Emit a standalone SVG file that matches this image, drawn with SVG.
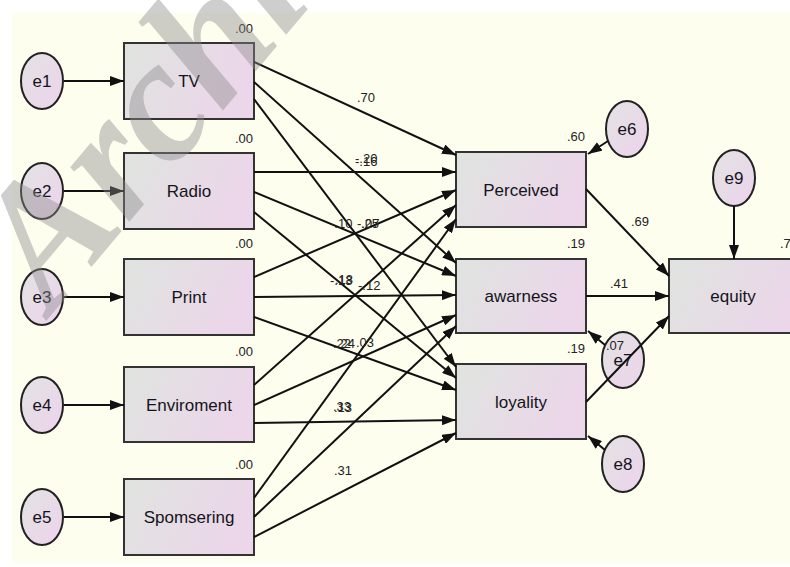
<svg xmlns="http://www.w3.org/2000/svg" width="790" height="567" viewBox="0 0 790 567">
  <defs>
    <linearGradient id="boxFill" x1="0" y1="0" x2="1" y2="0.3">
      <stop offset="0" stop-color="#dfe4df"/>
      <stop offset="1" stop-color="#ecd6ea"/>
    </linearGradient>
    <linearGradient id="ovalFill" x1="0" y1="0" x2="1" y2="1">
      <stop offset="0" stop-color="#e3e3e3"/>
      <stop offset="1" stop-color="#edd3ec"/>
    </linearGradient>
    <marker id="head" viewBox="0 0 14 10" refX="14" refY="5" markerWidth="14" markerHeight="10" orient="auto" markerUnits="userSpaceOnUse">
      <path d="M0,0 L14,5 L0,10 z" fill="#111"/>
    </marker>
    <style>
      .box { fill: url(#boxFill); stroke: #333; stroke-width: 2; }
      .oval { fill: url(#ovalFill); stroke: #222; stroke-width: 2; }
      .name { font-family: "Liberation Sans", Arial, sans-serif; font-size: 17px; fill: #141420; text-anchor: middle; }
      .val { font-family: "Liberation Sans", Arial, sans-serif; font-size: 13px; fill: #222; }
      .end { text-anchor: end; }
      .wire { stroke: #111; stroke-width: 2; fill: none; marker-end: url(#head); }
      .mark { font-family: "Liberation Serif", "Times New Roman", serif; font-weight: bold; font-style: italic; font-size: 175px; fill: #8a8a8a; fill-opacity: 0.42; }
    </style>
  </defs>

  <rect x="0" y="0" width="790" height="567" fill="#ffffff"/>
  <rect x="12" y="13" width="778" height="550" fill="#fefeef"/>

  <!-- error terms -->
  <g id="e1"><ellipse class="oval" cx="42" cy="81" rx="21" ry="28"/><text class="name" x="42" y="87">e1</text></g>
  <g id="e2"><ellipse class="oval" cx="42" cy="191" rx="21" ry="28"/><text class="name" x="42" y="197">e2</text></g>
  <g id="e3"><ellipse class="oval" cx="42" cy="297" rx="21" ry="28"/><text class="name" x="42" y="303">e3</text></g>
  <g id="e4"><ellipse class="oval" cx="42" cy="405" rx="21" ry="28"/><text class="name" x="42" y="411">e4</text></g>
  <g id="e5"><ellipse class="oval" cx="42" cy="517" rx="21" ry="28"/><text class="name" x="42" y="523">e5</text></g>
  <g id="e6"><ellipse class="oval" cx="627" cy="129" rx="21" ry="28"/><text class="name" x="627" y="135">e6</text></g>
  <g id="e7"><ellipse class="oval" cx="623" cy="360" rx="21" ry="28"/><text class="name" x="623" y="366">e7</text></g>
  <g id="e8"><ellipse class="oval" cx="623" cy="464" rx="21" ry="28"/><text class="name" x="623" y="470">e8</text></g>
  <g id="e9"><ellipse class="oval" cx="734" cy="178" rx="21" ry="28"/><text class="name" x="734" y="184">e9</text></g>

  <!-- observed variables -->
  <g id="tv"><rect class="box" x="124" y="43" width="130" height="76"/><text class="name" x="189" y="87">TV</text></g>
  <g id="radio"><rect class="box" x="124" y="153" width="130" height="76"/><text class="name" x="189" y="197">Radio</text></g>
  <g id="print"><rect class="box" x="124" y="259" width="130" height="76"/><text class="name" x="189" y="303">Print</text></g>
  <g id="enviroment"><rect class="box" x="124" y="367" width="130" height="75"/><text class="name" x="189" y="411">Enviroment</text></g>
  <g id="spomsering"><rect class="box" x="124" y="479" width="130" height="76"/><text class="name" x="189" y="523">Spomsering</text></g>
  <g id="perceived"><rect class="box" x="456" y="152" width="130" height="75"/><text class="name" x="521" y="196">Perceived</text></g>
  <g id="awarness"><rect class="box" x="456" y="259" width="130" height="74"/><text class="name" x="521" y="302">awarness</text></g>
  <g id="loyality"><rect class="box" x="456" y="364" width="130" height="75"/><text class="name" x="521" y="408">loyality</text></g>
  <g id="equity"><rect class="box" x="669" y="259" width="140" height="74"/><text class="name" x="733" y="302">equity</text></g>

  <!-- paths -->
  <g id="connectors">
    <line class="wire" x1="64" y1="81" x2="124" y2="81"/>
    <line class="wire" x1="64" y1="191" x2="124" y2="191"/>
    <line class="wire" x1="64" y1="297" x2="124" y2="297"/>
    <line class="wire" x1="64" y1="405" x2="124" y2="405"/>
    <line class="wire" x1="64" y1="517" x2="124" y2="517"/>

    <line class="wire" x1="254" y1="62" x2="456" y2="155"/>
    <line class="wire" x1="254" y1="82" x2="456" y2="263"/>
    <line class="wire" x1="254" y1="99" x2="456" y2="367"/>
    <line class="wire" x1="254" y1="172" x2="456" y2="172"/>
    <line class="wire" x1="254" y1="192" x2="456" y2="276"/>
    <line class="wire" x1="254" y1="212" x2="456" y2="378"/>
    <line class="wire" x1="254" y1="277" x2="456" y2="190"/>
    <line class="wire" x1="254" y1="297" x2="456" y2="295"/>
    <line class="wire" x1="254" y1="317" x2="456" y2="390"/>
    <line class="wire" x1="254" y1="385" x2="456" y2="205"/>
    <line class="wire" x1="254" y1="405" x2="456" y2="315"/>
    <line class="wire" x1="254" y1="423" x2="456" y2="420"/>
    <line class="wire" x1="254" y1="498" x2="456" y2="219"/>
    <line class="wire" x1="254" y1="517" x2="456" y2="326"/>
    <line class="wire" x1="254" y1="537" x2="456" y2="433"/>

    <line class="wire" x1="608" y1="141" x2="588" y2="154"/>
    <line class="wire" x1="605" y1="345" x2="588" y2="331"/>
    <line class="wire" x1="605" y1="450" x2="588" y2="436"/>
    <line class="wire" x1="734" y1="206" x2="734" y2="259"/>

    <line class="wire" x1="586" y1="189" x2="669" y2="276"/>
    <line class="wire" x1="586" y1="296" x2="669" y2="296"/>
    <line class="wire" x1="586" y1="402" x2="669" y2="316"/>
  </g>

  <!-- estimates -->
  <g id="estimates">
    <text class="val end" x="253" y="33">.00</text>
    <text class="val end" x="253" y="143">.00</text>
    <text class="val end" x="253" y="248">.00</text>
    <text class="val end" x="253" y="356">.00</text>
    <text class="val end" x="253" y="469">.00</text>
    <text class="val end" x="585" y="141">.60</text>
    <text class="val end" x="585" y="248">.19</text>
    <text class="val end" x="585" y="353">.19</text>
    <text class="val" x="780" y="248">.7</text>
    <text class="val" x="606" y="350">.07</text>
    <text class="val" x="631" y="226">.69</text>
    <text class="val" x="610" y="288">.41</text>

    <text class="val" x="357" y="102">.70</text>
    <text class="val" x="355" y="163">-.20</text>
    <text class="val" x="355" y="166">-.16</text>
    <text class="val" x="330" y="228">-.10</text>
    <text class="val" x="357" y="228">-.07</text>
    <text class="val" x="361" y="228">.25</text>
    <text class="val" x="330" y="285">-.13</text>
    <text class="val" x="335" y="284">.18</text>
    <text class="val" x="358" y="290">-.12</text>
    <text class="val" x="333" y="348">.22</text>
    <text class="val" x="337" y="348">.24</text>
    <text class="val" x="356" y="347">.03</text>
    <text class="val" x="333" y="411">.33</text>
    <text class="val" x="334" y="412">.13</text>
    <text class="val" x="334" y="475">.31</text>
  </g>

  <text class="mark" transform="translate(52,314) rotate(-50)">Archive</text>
</svg>
